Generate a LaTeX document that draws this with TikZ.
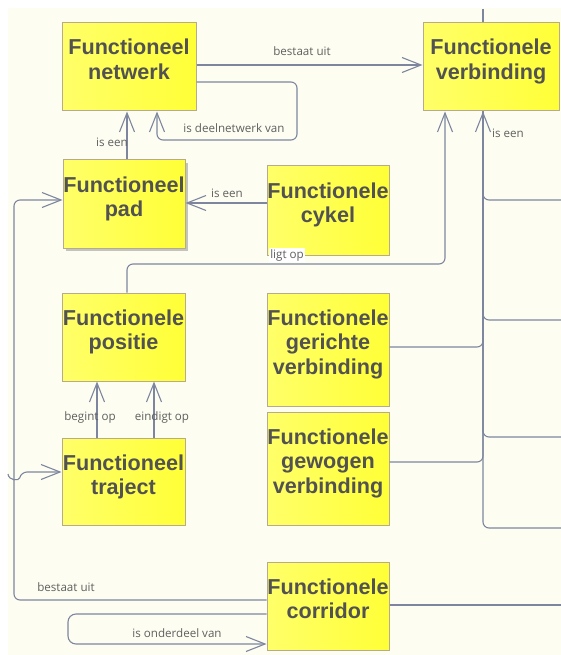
\documentclass[tikz,border=0pt]{standalone}
\usepackage{fontspec}
\setmainfont{Liberation Sans}
\newfontfamily\lblfont{Open Sans}
\usetikzlibrary{arrows.meta,shadows}
\definecolor{bgcream}{RGB}{253,253,242}
\definecolor{boxborder}{RGB}{184,170,140}
\definecolor{boxtxt}{RGB}{82,82,82}
\definecolor{lblcol}{RGB}{95,95,95}
\definecolor{linecol}{RGB}{125,134,158}
\definecolor{yelA}{RGB}{255,255,105}
\definecolor{yelB}{RGB}{255,255,55}
\newcommand\bxt[3]{\parbox[c][#2pt][t]{#1pt}{\centering\leftskip=-6pt plus 1fil\rightskip=-6pt plus 1fil\rule{0pt}{32pt}#3}}
\begin{document}
\begin{tikzpicture}[x=1pt,y=-1pt,
  umlbox/.style={draw=boxborder, line width=1pt, left color=yelA, right color=yelB,
    inner sep=0pt, text=boxtxt, font=\fontsize{21.6}{24.5}\selectfont\bfseries},
  conn/.style={draw=linecol, line width=1.1pt, rounded corners=6pt},
  arr/.style={-{Straight Barb[length=19pt,width=15pt]}},
  lbl/.style={font=\lblfont\fontsize{11.6}{13}\selectfont, text=lblcol, inner sep=1pt}]
\useasboundingbox (0,0) rectangle (561,655);
\fill[white] (0,0) rectangle (561,655);
\fill[bgcream] (8,8) rectangle (561,655);

% boxes
\node[umlbox] (netwerk) at (129,67) {\bxt{134}{88}{Functioneel\\netwerk}};
\node[umlbox] (verbinding) at (491,67) {\bxt{136}{88}{Functionele\\verbinding}};
\node[umlbox, drop shadow={shadow xshift=3pt,shadow yshift=-3pt,opacity=.5,fill=black!45}] (pad) at (124,204) {\bxt{122}{88}{Functioneel\\pad}};
\node[umlbox] (cykel) at (328,210.5) {\bxt{122}{89}{Functionele\\cykel}};
\node[umlbox] (positie) at (123.5,337) {\bxt{123}{88}{Functionele\\positie}};
\node[umlbox] (traject) at (123.5,481.5) {\bxt{123}{87}{Functioneel\\traject}};
\node[umlbox] (gerichte) at (328,349.5) {\bxt{122}{113}{Functionele\\gerichte\\verbinding}};
\node[umlbox] (gewogen) at (328,468.5) {\bxt{122}{113}{Functionele\\gewogen\\verbinding}};
\node[umlbox] (corridor) at (328,606) {\bxt{122}{88}{Functionele\\corridor}};

% free ends
\coordinate (topend) at (483,9);
\coordinate (b1) at (561,200);
\coordinate (b2) at (561,320);
\coordinate (b3) at (561,437);
\coordinate (b4) at (561,528);
\coordinate (cr) at (561,605);
\coordinate (hopstart) at (8,474);

% connectors
\draw[conn,arr] ([yshift=2pt]netwerk.east) -- ([yshift=2pt]verbinding.west);
\draw[conn,arr] ([yshift=-15pt]netwerk.east) -| (297,140) -| ([xshift=28pt]netwerk.south);
\draw[conn,arr] (pad.north -| 127,0) -- (netwerk.south -| 127,0);
\draw[conn,arr] (cykel.west |- 0,203) -- (pad.east |- 0,203);
\draw[conn,arr] (positie.north -| 127,0) |- (445,264) -- (verbinding.south -| 445,0);
\draw[conn] (topend) -- (verbinding.north -| 483,0);
\draw[conn,arr] (b1) -| (verbinding.south -| 483,0);
\draw[conn] (b2) -| (verbinding.south -| 483,0);
\draw[conn] (gerichte.east |- 0,347) -| (verbinding.south -| 483,0);
\draw[conn] (b3) -| (verbinding.south -| 483,0);
\draw[conn] (gewogen.east |- 0,462) -| (verbinding.south -| 483,0);
\draw[conn] (b4) -| (verbinding.south -| 483,0);
\draw[conn,arr] (traject.north -| 97,0) -- (positie.south -| 97,0);
\draw[conn,arr] (traject.north -| 154,0) -- (positie.south -| 154,0);
\draw[conn,arr] (corridor.west |- 0,600) -| (14,200) -- (pad.west |- 0,200);
\draw[conn,arr] (hopstart) .. controls (9,481) and (19,481) .. (21,472) -- (traject.west |- 0,472);
\draw[conn,arr,rounded corners=8pt] ([yshift=-8pt]corridor.west) -| (68,644) -- (corridor.west |- 0,644);
\draw[conn] (corridor.east |- 0,605) -- (cr);

% labels
\node[lbl] (l1) at (302,51) {bestaat uit};
\node[lbl] (l2) at (234,128) {is deelnetwerk van};
\node[lbl] (l3) at (112,142) {is een};
\node[lbl] (l4) at (227,193) {is een};
\node[lbl] (l5) at (508,133) {is een};
\node[lbl, fill=white] (l6) at (287,255) {ligt op};
\node[lbl] (l7) at (90,417) {begint op};
\node[lbl] (l8) at (162,417) {eindigt op};
\node[lbl] (l9) at (66,587) {bestaat uit};
\node[lbl] (l10) at (177,633) {is onderdeel van};
\end{tikzpicture}
\end{document}
